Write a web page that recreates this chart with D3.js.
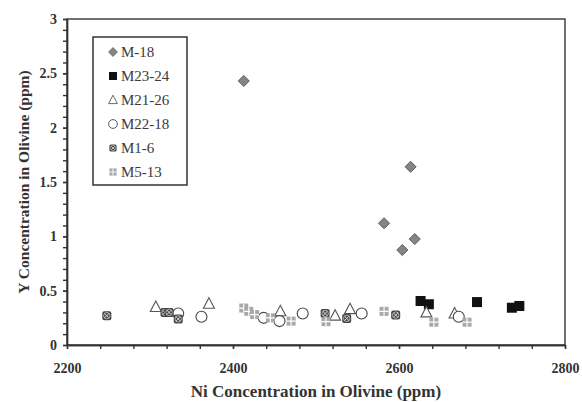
<!DOCTYPE html>
<html lang="en">
<head>
<meta charset="UTF-8">
<title>Y vs Ni in olivine</title>
<style>
  body { margin: 0; background: #fff; }
  .axis text { font-family: "Liberation Serif", "Times New Roman", serif; font-weight: bold; font-size: 14px; fill: #333; }
  .axis path, .axis line { stroke: #333; stroke-width: 1.4; }
</style>
</head>
<body>
<div id="chart"></div>
<script src="https://d3js.org/d3.v7.min.js"></script>
<script>
// data: [Ni ppm, Y ppm]
const m18 = [[2413, 2.43], [2614, 1.64], [2582, 1.12], [2619, 0.975], [2604, 0.874]];
const m2324 = [[2626, 0.405], [2636, 0.375], [2694, 0.395], [2736, 0.343], [2745, 0.359]];
const m2126 = [[2307, 0.35], [2371, 0.38], [2457, 0.31], [2523, 0.27], [2541, 0.33], [2633, 0.3], [2667, 0.29]];
const m2218 = [[2334, 0.29], [2362, 0.26], [2437, 0.25], [2456, 0.22], [2484, 0.29], [2555, 0.29], [2672, 0.26]];
const m16 = [[2248, 0.27], [2318, 0.3], [2323, 0.3], [2334, 0.24], [2511, 0.29], [2537, 0.245], [2596, 0.275]];
const m513 = [[2413, 0.34], [2419, 0.31], [2426, 0.28], [2445, 0.25], [2470, 0.22], [2512, 0.215], [2582, 0.31], [2642, 0.21], [2682, 0.21]];

const seriesNames = ['M-18', 'M23-24', 'M21-26', 'M22-18', 'M1-6', 'M5-13'];
const seriesData = [m18, m2324, m2126, m2218, m16, m513];

const xTicksMajor = [2200, 2400, 2600, 2800];
const yTicksMajor = [0, 0.5, 1, 1.5, 2, 2.5, 3];

const width = 582, height = 402;
const plotL = 67, plotR = 565, plotT = 19, plotB = 345;

const svg = d3.select('#chart').append('svg')
  .attr('width', width).attr('height', height);

const x = d3.scaleLinear().domain([2200, 2800]).range([plotL, plotR]);
const y = d3.scaleLinear().domain([0, 3]).range([plotB, plotT]);

// frame (top + right)
svg.append('rect')
  .attr('x', plotL).attr('y', plotT)
  .attr('width', plotR - plotL).attr('height', plotB - plotT)
  .attr('fill', 'none').attr('stroke', '#333').attr('stroke-width', 1.4);

// minor ticks
svg.append('g').attr('class', 'axis')
  .attr('transform', `translate(0,${plotB})`)
  .call(d3.axisBottom(x).tickValues(d3.range(2200, 2801, 40)).tickSize(4).tickSizeOuter(0).tickFormat(''));
svg.append('g').attr('class', 'axis')
  .attr('transform', `translate(${plotL},0)`)
  .call(d3.axisLeft(y).tickValues(d3.range(0, 31).map(d => d / 10)).tickSize(4).tickSizeOuter(0).tickFormat(''));

// labelled axes
svg.append('g').attr('class', 'axis')
  .attr('transform', `translate(0,${plotB})`)
  .call(d3.axisBottom(x).tickValues(xTicksMajor).tickSize(4).tickSizeOuter(0).tickPadding(14).tickFormat(d3.format('d')));
svg.append('g').attr('class', 'axis')
  .attr('transform', `translate(${plotL},0)`)
  .call(d3.axisLeft(y).tickValues(yTicksMajor).tickSize(4).tickSizeOuter(0).tickPadding(6).tickFormat(d => d));

// axis titles
svg.append('text')
  .attr('x', (plotL + plotR) / 2).attr('y', 397)
  .attr('text-anchor', 'middle')
  .style('font-family', '"Liberation Serif", serif').style('font-weight', 'bold')
  .style('font-size', '17px').style('fill', '#333')
  .text('Ni Concentration in Olivine (ppm)');
svg.append('text')
  .attr('transform', `translate(29,${(plotT + plotB) / 2}) rotate(-90)`)
  .attr('text-anchor', 'middle')
  .style('font-family', '"Liberation Serif", serif').style('font-weight', 'bold')
  .style('font-size', '15.5px').style('fill', '#333')
  .text('Y Concentration in Olivine (ppm)');

// marker painters
const drawMarker = (g, i) => {
  if (i === 0) {
    g.append('path').attr('d', 'M0,-5.5L5.5,0L0,5.5L-5.5,0Z')
      .attr('fill', '#858585').attr('stroke', '#5a5a5a').attr('stroke-width', 1);
  } else if (i === 1) {
    g.append('rect').attr('x', -5).attr('y', -5).attr('width', 10).attr('height', 10)
      .attr('fill', '#111');
  } else if (i === 2) {
    g.append('path').attr('d', 'M0,-6L5.5,4.5L-5.5,4.5Z')
      .attr('fill', '#fff').attr('stroke', '#555').attr('stroke-width', 1.1);
  } else if (i === 3) {
    g.append('circle').attr('r', 5.5)
      .attr('fill', '#fff').attr('stroke', '#444').attr('stroke-width', 1.1);
  } else if (i === 4) {
    g.append('rect').attr('x', -4.5).attr('y', -4.5).attr('width', 9).attr('height', 9).attr('rx', 2)
      .attr('fill', '#444');
    g.append('circle').attr('r', 3.2).attr('fill', 'none').attr('stroke', '#bbb').attr('stroke-width', 0.9);
    g.append('path').attr('d', 'M-2.2,-2.2L2.2,2.2M2.2,-2.2L-2.2,2.2')
      .attr('stroke', '#ddd').attr('stroke-width', 1);
  } else {
    g.append('rect').attr('x', -4.5).attr('y', -4.5).attr('width', 9).attr('height', 9)
      .attr('fill', '#a8a8a8');
    g.append('path').attr('d', 'M0,-4.5V4.5M-4.5,0H4.5')
      .attr('stroke', '#fff').attr('stroke-width', 1.2);
  }
};

// points
seriesData.forEach((pts, i) => {
  svg.append('g').selectAll('g')
    .data(pts)
    .join('g')
    .attr('transform', d => `translate(${x(d[0])},${y(d[1])})`)
    .each(function () { drawMarker(d3.select(this), i); });
});

// legend
const legend = svg.append('g');
legend.append('rect')
  .attr('x', 93).attr('y', 37).attr('width', 94).attr('height', 148)
  .attr('fill', '#fff').attr('stroke', '#333').attr('stroke-width', 1.5);
seriesNames.forEach((name, i) => {
  const gy = 52 + i * 24;
  const g = legend.append('g').attr('transform', `translate(113,${gy}) scale(0.8)`);
  drawMarker(g, i);
  legend.append('text')
    .attr('x', 121).attr('y', gy + 5)
    .style('font-family', '"Liberation Serif", serif')
    .style('font-size', '15px').style('fill', '#3a3a3a')
    .text(name);
});
</script>
</body>
</html>
